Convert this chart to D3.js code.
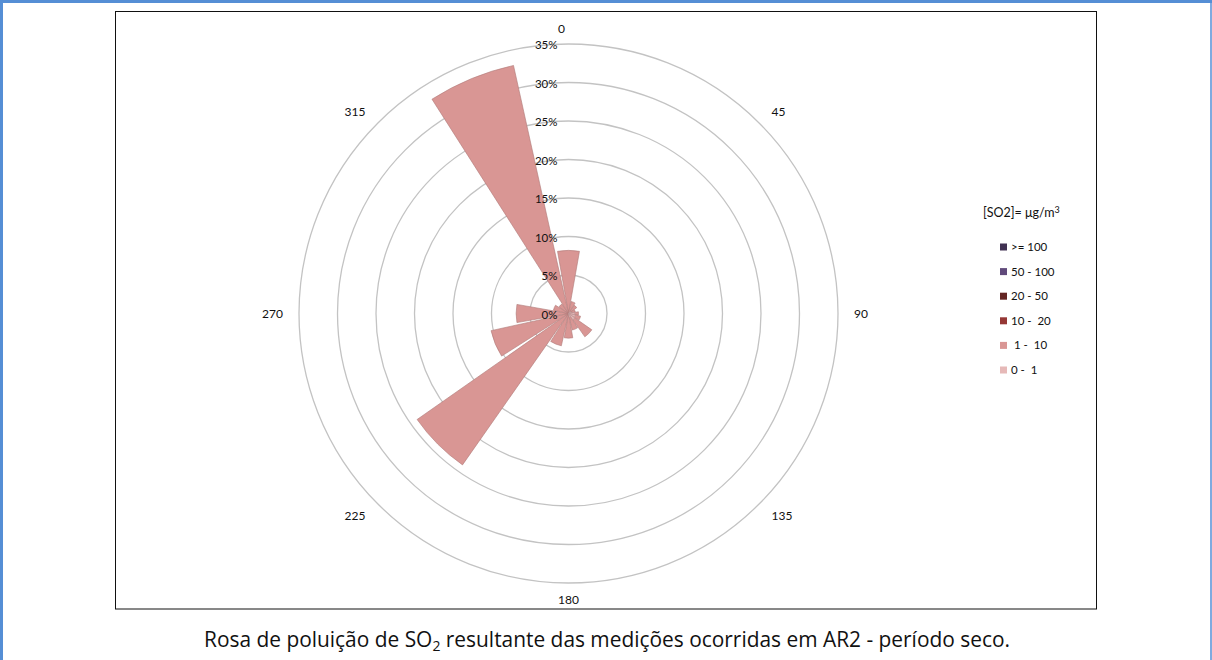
<!DOCTYPE html>
<html>
<head>
<meta charset="utf-8">
<script src="https://cdn.jsdelivr.net/npm/d3@7"></script>
<style>
  body { margin: 0; background: #fff; }
  svg { display: block; font-family: Lato, "Open Sans", sans-serif; }
</style>
</head>
<body>
<svg id="chart"></svg>
<script>
const svgWidth = 1212,
    svgHeight = 660;

// wind directions (degrees) of the 16 sectors
const directions = [0, 22.5, 45, 67.5, 90, 112.5, 135, 157.5, 180, 202.5, 225, 247.5, 270, 292.5, 315, 337.5];

// frequency (%) per concentration band, one value per direction
const band0_1    = [0, 0, 0.3, 0.4, 0.8, 0.9, 1.0, 0.5, 0, 0, 0, 0, 0, 0, 0, 0];
const band1_10   = [8.2, 1.6, 1.0, 0.5, 0.5, 0.7, 2.7, 1.7, 3.2, 4.3, 24, 10.3, 6.8, 2.0, 1.5, 33];
const band10_20  = [0, 0, 0, 0, 0, 0, 0, 0, 0, 0, 0, 0, 0, 0, 0, 0];
const band20_50  = [0, 0, 0, 0, 0, 0, 0, 0, 0, 0, 0, 0, 0, 0, 0, 0];
const band50_100 = [0, 0, 0, 0, 0, 0, 0, 0, 0, 0, 0, 0, 0, 0, 0, 0];
const band100    = [0, 0, 0, 0, 0, 0, 0, 0, 0, 0, 0, 0, 0, 0, 0, 0];

// legend (top to bottom as shown) 
const bandNames  = [">= 100", "50 - 100", "20 - 50", "10 -  20", " 1 -  10", "0 -  1"];
const bandColors = ["#403152", "#604a7b", "#632523", "#953735", "#d99694", "#e6b9b8"];

const rTicks = [0, 5, 10, 15, 20, 25, 30, 35];
const angleTicks = [0, 45, 90, 135, 180, 225, 270, 315];

const cx = 568.5, cy = 313.5, rMax = 269.5;

const chart = d3.select('#chart')
    .attr("width", svgWidth)
    .attr("height", svgHeight);

// page frame
chart.append("rect").attr("x", 1.5).attr("y", 1.5).attr("width", svgWidth + 10).attr("height", svgHeight + 10)
    .attr("fill", "none").attr("stroke", "#558ed5").attr("stroke-width", 3);
chart.append("line").attr("x1", 1211).attr("x2", 1211).attr("y1", 0).attr("y2", svgHeight)
    .attr("stroke", "#558ed5").attr("stroke-width", 1.5);

// chart area border
chart.append("rect").attr("x", 115.5).attr("y", 11.5).attr("width", 981).attr("height", 597.5)
    .attr("fill", "#fff").attr("stroke", "#111").attr("stroke-width", 1);

var rScale = d3.scaleLinear().domain([0, 35]).range([0, rMax]);

const g = chart.append("g").attr("transform", `translate(${cx},${cy})`);

// grid circles
g.selectAll("circle.grid")
    .data(rTicks.filter(d => d > 0))
    .enter().append("circle")
    .attr("class", "grid")
    .attr("r", d => rScale(d))
    .attr("fill", "none")
    .attr("stroke", "#c3c3c3")
    .attr("stroke-width", 1.3);

// stacked bands, innermost first
var bands = [band0_1, band1_10, band10_20, band20_50, band50_100, band100];
var colorsInner = bandColors.slice().reverse();
var rows = directions.map((d, i) => {
    var row = {dir: d};
    bands.forEach((b, k) => row["b" + k] = b[i]);
    return row;
});
var stack = d3.stack().keys(bands.map((b, k) => "b" + k));
var series = stack(rows);

var arc = d3.arc()
    .innerRadius(0)
    .outerRadius(d => rScale(d[1]))
    .startAngle(d => (d.data.dir - 10) * Math.PI / 180)
    .endAngle(d => (d.data.dir + 10) * Math.PI / 180);

// draw outer bands first so inner ones sit on top
series.slice().reverse().forEach(s => {
    g.append("g")
        .selectAll("path")
        .data(s.filter(d => d[1] - d[0] > 0))
        .enter().append("path")
        .attr("d", arc)
        .attr("fill", colorsInner[s.index])
        .attr("stroke", d3.color(colorsInner[s.index]).darker(0.6))
        .attr("stroke-width", 0.6);
});

// radial tick labels
g.selectAll("text.rtick")
    .data(rTicks)
    .enter().append("text")
    .attr("class", "rtick")
    .attr("x", -11)
    .attr("y", d => -rScale(d) + 5)
    .attr("text-anchor", "end")
    .attr("font-size", 11.5)
    .attr("fill", "#111")
    .text(d => d + "%");

// direction labels
var dirLabels = g.selectAll("text.dir")
    .data(angleTicks)
    .enter().append("text")
    .attr("class", "dir")
    .attr("text-anchor", "middle")
    .attr("dominant-baseline", "central")
    .attr("font-size", 12)
    .attr("fill", "#111")
    .text(d => d);
dirLabels.each(function(d) {
    var a = d * Math.PI / 180,
        w = this.getComputedTextLength(),
        s = Math.sin(a), c = Math.cos(a);
    var rr = rMax + 12;
    var side = Math.abs(s) < 0.01 ? 0 : Math.sign(s);
    d3.select(this)
        .attr("x", s * rr + side * (w / 2 + 4) - (d == 0 ? 7 : 0))
        .attr("y", -c * rr - c * 4);
});

// legend
const legend = chart.append("g").attr("transform", "translate(983,217)");
const legendTitle = legend.append("text")
    .attr("x", 0).attr("y", 0)
    .attr("font-size", 12.5)
    .attr("fill", "#111");
legendTitle.append("tspan").text("[SO2]= μg/m");
legendTitle.append("tspan").attr("font-size", 9).attr("dy", -4).text("3");

var items = legend.selectAll("g.item")
    .data(bandNames)
    .enter().append("g")
    .attr("class", "item")
    .attr("transform", (d, i) => `translate(17,${30 + i * 24.6})`);
items.append("rect")
    .attr("x", 0).attr("y", -3.5)
    .attr("width", 7).attr("height", 7)
    .attr("fill", (d, i) => bandColors[i]);
items.append("text")
    .attr("x", 11).attr("y", 4)
    .attr("font-size", 11.5)
    .attr("fill", "#111")
    .style("white-space", "pre")
    .text(d => d);

// caption
const caption = chart.append("text")
    .attr("x", 607).attr("y", 647)
    .attr("text-anchor", "middle")
    .attr("font-family", "'Open Sans', sans-serif")
    .attr("font-size", 20.9)
    .attr("fill", "#111");
caption.append("tspan").text("Rosa de poluição de SO");
caption.append("tspan").attr("font-size", 14).attr("dy", 4).text("2");
caption.append("tspan").attr("dy", -4).text(" resultante das medições ocorridas em AR2 - período seco.");
</script>
</body>
</html>
